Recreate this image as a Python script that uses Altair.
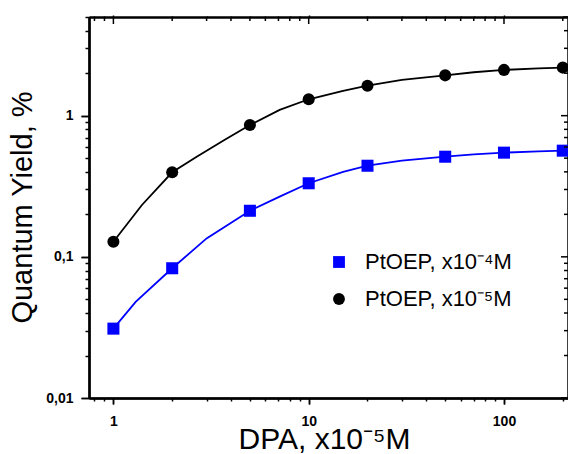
import altair as alt
import pandas as pd

# ---- data ----
series = ["PtOEP, x10\u207b\u2074M", "PtOEP, x10\u207b\u2075M"]
series_colors = ["#0000FF", "#000000"]
series_shapes = ["square", "circle"]

dpa = [1, 2, 5, 10, 20, 50, 100, 200]
qy_1e4 = [0.031, 0.083, 0.212, 0.332, 0.442, 0.512, 0.547, 0.565]
qy_1e5 = [0.128, 0.397, 0.859, 1.307, 1.63, 1.93, 2.11, 2.19]

fit_x_1e4 = [1, 1.3, 2, 3, 5, 7.1, 10, 15, 20, 30, 50, 70, 100, 150, 200]
fit_y_1e4 = [0.031, 0.048, 0.083, 0.135, 0.212, 0.267, 0.332, 0.40, 0.442, 0.48, 0.512, 0.532, 0.547, 0.558, 0.565]
fit_x_1e5 = [1, 1.4, 2, 2.67, 3.7, 5, 7.1, 10, 15, 20, 30, 50, 70, 100, 150, 200]
fit_y_1e5 = [0.128, 0.233, 0.397, 0.512, 0.672, 0.859, 1.10, 1.307, 1.50, 1.63, 1.79, 1.93, 2.03, 2.11, 2.16, 2.19]

x_major_ticks = [1, 10, 100]
x_minor_ticks = [0.8, 0.9, 2, 3, 4, 5, 6, 7, 8, 9, 20, 30, 40, 50, 60, 70, 80, 90, 200]
y_major_ticks = [0.01, 0.1, 1]
y_minor_ticks = [0.02, 0.03, 0.04, 0.05, 0.06, 0.07, 0.08, 0.09,
                 0.2, 0.3, 0.4, 0.5, 0.6, 0.7, 0.8, 0.9, 2, 3, 4, 5]

pts = pd.DataFrame({
    "x": dpa + dpa,
    "y": qy_1e4 + qy_1e5,
    "s": [series[0]] * len(dpa) + [series[1]] * len(dpa),
})
fit = pd.DataFrame({
    "x": fit_x_1e4 + fit_x_1e5,
    "y": fit_y_1e4 + fit_y_1e5,
    "s": [series[0]] * len(fit_x_1e4) + [series[1]] * len(fit_x_1e5),
    "c": [series_colors[0]] * len(fit_x_1e4) + [series_colors[1]] * len(fit_x_1e5),
})
xmaj = pd.DataFrame({"t": x_major_ticks})
xmin = pd.DataFrame({"t": x_minor_ticks})
ymaj = pd.DataFrame({"t": y_major_ticks})
ymin = pd.DataFrame({"t": y_minor_ticks})

W, H = 479, 381
xscale = alt.Scale(type="log", domain=[0.75, 212.7], nice=False)
yscale = alt.Scale(type="log", domain=[0.01, 5], nice=False)
font = "Liberation Sans"


def bare(values, orient, size, offset=0):
    return alt.Axis(values=values, orient=orient, offset=offset, tickSize=size,
                    labels=False, title=None)


x_bottom_major = alt.Axis(
    values=x_major_ticks, orient="bottom", tickSize=6, labelPadding=10,
    labelExpr="datum.value==1?'1':datum.value==10?'10':datum.value==100?'100':''",
    title="DPA, x10\u207b\u2075M", titleFont=font, titleFontSize=30, titleFontWeight="normal",
    titleColor="black", titleBaseline="alphabetic", titleY=50, titleX=235)
y_left_major = alt.Axis(
    values=y_major_ticks, orient="left", tickSize=8, labelPadding=8,
    labelExpr="datum.value==0.01?'0,01':datum.value==0.1?'0,1':'1'",
    title="Quantum Yield, %", titleFont=font, titleFontSize=29, titleFontWeight="normal",
    titleColor="black", titleBaseline="alphabetic", titleAngle=270, titleX=-58, titleY=190)

enc_x = lambda ax: alt.X("x:Q", scale=xscale, axis=ax)
enc_y = lambda ax: alt.Y("y:Q", scale=yscale, axis=ax)

lines = alt.Chart(fit).mark_line(strokeWidth=1.8).encode(
    x=enc_x(x_bottom_major),
    y=enc_y(y_left_major),
    color=alt.Color("c:N", scale=None),
    detail="s:N",
    order=alt.Order("x:Q"),
)

ghost = alt.Chart(pts).mark_point(opacity=0)
minor_bl = ghost.encode(x=enc_x(bare(x_minor_ticks, "bottom", 3)),
                        y=enc_y(bare(y_minor_ticks, "left", 4)))
major_tr = ghost.encode(x=enc_x(bare(x_major_ticks, "top", 2)),
                        y=enc_y(bare(y_major_ticks, "right", 2)))
minor_tr = ghost.encode(x=enc_x(bare(x_minor_ticks, "top", 1)),
                        y=enc_y(bare(y_minor_ticks, "right", 1)))

points = alt.Chart(pts).mark_point(filled=True, opacity=1).encode(
    x=enc_x(bare(x_major_ticks, "bottom", 6)),
    y=enc_y(bare(y_major_ticks, "left", 8)),
    shape=alt.Shape("s:N", scale=alt.Scale(domain=series, range=series_shapes),
                    legend=alt.Legend(title=None)),
    fill=alt.Fill("s:N", scale=alt.Scale(domain=series, range=series_colors),
                  legend=alt.Legend(title=None)),
    size=alt.value(145),
)

# inward ticks on the top and right frame, drawn through the shared scales
rule = dict(color="#000000", strokeWidth=1.5)
inner_ticks = [
    alt.Chart(xmaj).mark_rule(**rule).encode(
        x=alt.X("t:Q", scale=xscale, axis=None), y=alt.value(0), y2=alt.value(7)),
    alt.Chart(xmin).mark_rule(**rule).encode(
        x=alt.X("t:Q", scale=xscale, axis=None), y=alt.value(0), y2=alt.value(4)),
    alt.Chart(ymaj).mark_rule(**rule).encode(
        y=alt.Y("t:Q", scale=yscale, axis=None), x=alt.value(W - 7), x2=alt.value(W)),
    alt.Chart(ymin).mark_rule(**rule).encode(
        y=alt.Y("t:Q", scale=yscale, axis=None), x=alt.value(W - 4), x2=alt.value(W)),
]

chart = alt.layer(minor_bl, major_tr, minor_tr, lines, points, *inner_ticks).resolve_axis(
    x="independent", y="independent"
).properties(
    width=W, height=H,
    autosize=alt.AutoSizeParams(type="none"),
    padding={"left": 89, "top": 17, "right": 0, "bottom": 56},
    background="white",
).configure_axis(
    grid=False, domainColor="#000000", domainWidth=2, tickColor="#000000", tickWidth=1.5,
    labelFont=font, labelFontSize=14, labelFontWeight="bold", labelColor="#000000",
    labelOverlap=False, labelFlush=False,
).configure_view(stroke="transparent").configure_legend(
    orient="none", legendX=239, legendY=234, padding=0,
    labelFont=font, labelFontSize=22, labelColor="black", labelOffset=15,
    symbolSize=140, rowPadding=15, symbolStrokeWidth=0,
)

chart.save("out.html", embed_options={"renderer": "svg", "actions": False})
